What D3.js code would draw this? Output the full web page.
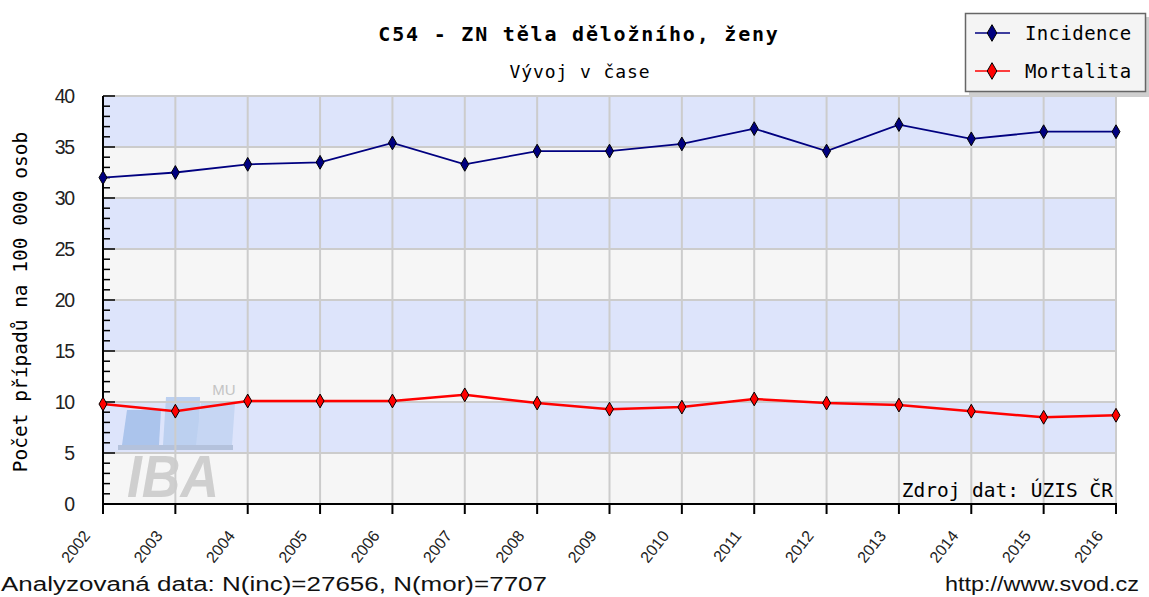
<!DOCTYPE html>
<html><head><meta charset="utf-8">
<script src="https://cdn.jsdelivr.net/npm/d3@7"></script>
<style>body{margin:0;background:#fff}svg{display:block}</style>
</head><body>
<script>
const years = [2002,2003,2004,2005,2006,2007,2008,2009,2010,2011,2012,2013,2014,2015,2016];
const incidence = [32.0,32.5,33.3,33.5,35.4,33.3,34.6,34.6,35.3,36.8,34.6,37.2,35.8,36.5,36.5];
const mortalita = [9.8,9.1,10.1,10.1,10.1,10.7,9.9,9.3,9.5,10.3,9.9,9.7,9.1,8.5,8.7];
const yTicks = [0,5,10,15,20,25,30,35,40];
const seriesNames = ["Incidence","Mortalita"];

const W=1149,H=597;
const svg=d3.select("body").append("svg").attr("width",W).attr("height",H);
const L=103,R=1116,T=96,B=504;
const x=d3.scalePoint().domain(years).range([L,R]);
const y=d3.scaleLinear().domain([0,40]).range([B,T]);
const mono="'DejaVu Sans Mono', monospace";
const lib="'Liberation Sans', Arial, sans-serif";

// bands
const bands=d3.range(0,40,5);
svg.selectAll("rect.band").data(bands).enter().append("rect")
  .attr("x",L).attr("width",R-L)
  .attr("y",d=>y(d+5)).attr("height",d=>y(d)-y(d+5))
  .attr("fill",(d,i)=>i%2===0?"#f6f6f6":"#dde4fb");

// IBA logo watermark
const logo=svg.append("g");
logo.append("path").attr("d","M127,410 L161,410 L159,445 L122,445 Z").attr("fill","#abc4ec");
logo.append("path").attr("d","M166,397 L200,397 L199,445 L163,445 Z").attr("fill","#bcd0f0");
logo.append("path").attr("d","M201,403 L235,403 L232,445 L196,445 Z").attr("fill","#c6d6f3");
logo.append("rect").attr("x",118).attr("y",445).attr("width",115).attr("height",5).attr("fill","#b4c2dc");
logo.append("text").attr("x",127).attr("y",497)
  .attr("font-family",lib).attr("font-weight","bold").attr("font-style","italic")
  .attr("font-size",60).attr("textLength",92).attr("lengthAdjust","spacingAndGlyphs").attr("fill","#cfcfcf").text("IBA");
logo.append("text").attr("x",224).attr("y",395).attr("text-anchor","middle")
  .attr("font-family",lib).attr("font-size",15).attr("fill","#c4c4c4").text("MU");

// grid
svg.selectAll("line.vg").data(years).enter().append("line")
  .attr("x1",d=>x(d)).attr("x2",d=>x(d)).attr("y1",T).attr("y2",B)
  .attr("stroke","#cccccc").attr("stroke-width",2);
svg.selectAll("line.hg").data(yTicks).enter().append("line")
  .attr("x1",L).attr("x2",R).attr("y1",d=>y(d)).attr("y2",d=>y(d))
  .attr("stroke","#cccccc").attr("stroke-width",2);

// source text
svg.append("text").attr("x",1113).attr("y",497).attr("text-anchor","end")
  .attr("font-family",mono).attr("font-size",19.5)
  .attr("fill","#000").text("Zdroj dat: ÚZIS ČR");

// y axis
svg.append("line").attr("x1",L).attr("x2",L).attr("y1",T).attr("y2",B+1).attr("stroke","#000").attr("stroke-width",2);
const minor=d3.range(0,41,1);
svg.selectAll("line.yt").data(minor).enter().append("line")
  .attr("x1",L).attr("x2",d=>d%5===0?L+12:L+7)
  .attr("y1",d=>y(d)).attr("y2",d=>y(d)).attr("stroke","#000").attr("stroke-width",1.5);
svg.selectAll("text.yl").data(yTicks).enter().append("text")
  .attr("x",74).attr("y",d=>y(d)+7).attr("text-anchor","end")
  .attr("font-family",lib).attr("font-size",19.5).attr("letter-spacing","-1.2")
  .attr("fill","#222").text(d=>d);

// x axis
svg.append("line").attr("x1",L).attr("x2",R+1).attr("y1",B).attr("y2",B).attr("stroke","#000").attr("stroke-width",2);
svg.selectAll("line.xt").data(years).enter().append("line")
  .attr("x1",d=>x(d)).attr("x2",d=>x(d)).attr("y1",B).attr("y2",B+10).attr("stroke","#000").attr("stroke-width",2);
svg.selectAll("text.xl").data(years).enter().append("text")
  .attr("transform",d=>`translate(${x(d)-12},${B+32}) rotate(-52)`)
  .attr("text-anchor","end").attr("font-family",lib).attr("font-size",16)
  .attr("fill","#222").text(d=>d);

// series
const series=[{name:seriesNames[0],vals:incidence,color:"#000080",w:1.8},{name:seriesNames[1],vals:mortalita,color:"#ff0000",w:2.5}];
const line=d3.line().x((d,i)=>x(years[i])).y(d=>y(d));
const diamond=d3.symbol().type(d3.symbolDiamond).size(55);
series.forEach(s=>{
  svg.append("path").datum(s.vals).attr("d",line).attr("fill","none").attr("stroke",s.color).attr("stroke-width",s.w);
  svg.selectAll(null).data(s.vals).enter().append("path")
    .attr("d",diamond).attr("transform",(d,i)=>`translate(${x(years[i])},${y(d)})`)
    .attr("fill",s.color).attr("stroke","#000").attr("stroke-width",1);
});

// titles
svg.append("text").attr("x",579).attr("y",41).attr("text-anchor","middle")
  .attr("font-family",mono).attr("font-weight","bold").attr("font-size",20).attr("letter-spacing","1.8")
  .attr("fill","#000").text("C54 - ZN těla děložního, ženy");
svg.append("text").attr("x",580).attr("y",78).attr("text-anchor","middle")
  .attr("font-family",mono).attr("font-size",18).attr("letter-spacing","0.9")
  .attr("fill","#000").text("Vývoj v čase");
svg.append("text").attr("transform","translate(27,302) rotate(-90)").attr("text-anchor","middle")
  .attr("font-family",mono).attr("font-size",19.5)
  .attr("fill","#000").text("Počet případů na 100 000 osob");

// legend
const lg=svg.append("g");
lg.append("rect").attr("x",969).attr("y",17).attr("width",180).attr("height",80).attr("fill","#cfcfcf");
lg.append("rect").attr("x",965.5).attr("y",13.5).attr("width",180).attr("height",78).attr("fill","#f4f4f4").attr("stroke","#666").attr("stroke-width",1.5);
series.forEach((s,i)=>{
  const yy=33+i*38;
  lg.append("line").attr("x1",975).attr("x2",1010).attr("y1",yy).attr("y2",yy).attr("stroke",s.color).attr("stroke-width",1.5);
  lg.append("path").attr("d",d3.symbol().type(d3.symbolDiamond).size(80)).attr("transform",`translate(992,${yy})`)
    .attr("fill",s.color).attr("stroke","#000").attr("stroke-width",1);
  lg.append("text").attr("x",1025).attr("y",yy+7).attr("font-family",mono).attr("font-size",19).attr("letter-spacing","0.4")
    .attr("fill","#000").text(s.name);
});

// footer
svg.append("text").attr("x",1).attr("y",591).attr("font-family",lib).attr("font-size",20)
  .attr("textLength",546).attr("lengthAdjust","spacingAndGlyphs")
  .attr("fill","#111").text("Analyzovaná data: N(inc)=27656, N(mor)=7707");
svg.append("text").attr("x",945).attr("y",591).attr("font-family",lib).attr("font-size",20)
  .attr("textLength",194).attr("lengthAdjust","spacingAndGlyphs")
  .attr("fill","#111").text("http://www.svod.cz");
</script>
</body></html>
